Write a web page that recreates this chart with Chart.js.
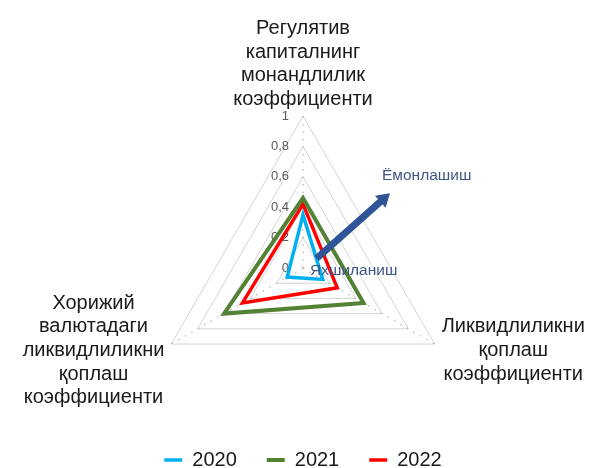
<!DOCTYPE html>
<html lang="uz">

<head>
    <meta charset="UTF-8">
    <meta name="viewport" content="width=device-width, initial-scale=1.0">
    <script src="https://cdn.jsdelivr.net/npm/chart.js"></script>
    <title>Коэффициентлар</title>
    <style>
        html, body { margin: 0; padding: 0; background: #fff; }
    </style>
</head>

<body>
    <canvas id="chart" width="594" height="468"></canvas>
    <script>
        const axisLabels = [
            ['Регулятив', 'капиталнинг', 'монандлилик', 'коэффициенти'],
            ['Ликвидлиликни', 'қоплаш', 'коэффициенти'],
            ['Хорижий', 'валютадаги', 'ликвидлиликни', 'қоплаш', 'коэффициенти']
        ]
        const years = ['2020', '2021', '2022']
        const values2020 = [0.35, 0.15, 0.12]
        const values2021 = [0.46, 0.46, 0.60]
        const values2022 = [0.42, 0.26, 0.46]
        const tickValues = [0, 0.2, 0.4, 0.6, 0.8, 1]
        const colors = ['#00B0F0', '#548235', '#FF0000']

        const family = 'Arial, "Liberation Sans", sans-serif'

        // tick numbers and axis titles, drawn under the data lines
        const axisText = {
            id: 'axisText',
            beforeDatasetsDraw(chart) {
                const r = chart.scales.r
                const ctx = chart.ctx
                ctx.save()
                ctx.font = '13px ' + family
                ctx.fillStyle = '#595959'
                ctx.textAlign = 'right'
                ctx.textBaseline = 'middle'
                tickValues.forEach(v => {
                    const y = r.yCenter - r.getDistanceFromCenterForValue(v)
                    ctx.fillText(String(v).replace('.', ','), r.xCenter - 14, y)
                })

                ctx.font = '20px ' + family
                ctx.fillStyle = '#1a1a1a'
                ctx.textAlign = 'center'
                ctx.textBaseline = 'alphabetic'
                const lh = 23.6
                axisLabels.forEach((lines, i) => {
                    const p = r.getPointPosition(i, r.drawingArea)
                    const w = Math.max(...lines.map(t => ctx.measureText(t).width))
                    let cx, y0
                    if (i === 0) {
                        cx = p.x
                        y0 = p.y - 11 - (lines.length - 1) * lh
                    } else {
                        cx = i === 1 ? p.x + 7 + w / 2 : p.x - 7 - w / 2
                        y0 = p.y + 12 - (lines.length - 1) / 2 * lh
                    }
                    lines.forEach((t, k) => ctx.fillText(t, cx, y0 + k * lh))
                })
                ctx.restore()
            }
        }

        // arrow from the centre outwards with its two captions
        const trendArrow = {
            id: 'trendArrow',
            afterDatasetsDraw(chart) {
                const r = chart.scales.r
                const ctx = chart.ctx
                const at = (deg, v) => {
                    const a = deg * Math.PI / 180
                    const d = r.getDistanceFromCenterForValue(v)
                    return { x: r.xCenter + Math.sin(a) * d, y: r.yCenter - Math.cos(a) * d }
                }
                const s = at(54.7, 0.11)
                const e = at(49.3, 0.755)
                const len = Math.hypot(e.x - s.x, e.y - s.y)
                const ux = (e.x - s.x) / len, uy = (e.y - s.y) / len
                const headLen = 13, headW = 8
                const bx = e.x - ux * headLen, by = e.y - uy * headLen

                ctx.save()
                ctx.strokeStyle = '#2F5597'
                ctx.fillStyle = '#2F5597'
                ctx.lineWidth = 7
                ctx.lineCap = 'butt'
                ctx.beginPath()
                ctx.moveTo(s.x, s.y)
                ctx.lineTo(bx + ux, by + uy)
                ctx.stroke()
                ctx.beginPath()
                ctx.moveTo(e.x, e.y)
                ctx.lineTo(bx - uy * headW, by + ux * headW)
                ctx.lineTo(bx + uy * headW, by - ux * headW)
                ctx.closePath()
                ctx.fill()

                ctx.font = '15.5px ' + family
                ctx.fillStyle = '#3F5587'
                ctx.textAlign = 'left'
                ctx.textBaseline = 'middle'
                ctx.fillText('Ёмонлашиш', r.xCenter + 79, r.yCenter - 92)
                ctx.fillText('Яхшиланиш', r.xCenter + 7, r.yCenter + 3)
                ctx.restore()
            }
        }

        const series = [values2020, values2021, values2022]
        const widths = [3.5, 4, 3.5]

        new Chart(document.getElementById('chart'), {
            type: 'radar',
            data: {
                labels: axisLabels,
                datasets: years.map((y, i) => ({
                    label: y,
                    data: series[i],
                    borderColor: colors[i],
                    backgroundColor: 'transparent',
                    borderWidth: widths[i],
                    borderJoinStyle: 'miter',
                    pointRadius: 0,
                    pointHoverRadius: 0,
                    fill: false
                }))
            },
            options: {
                responsive: false,
                animation: false,
                layout: { padding: { top: 116, left: 12, right: 0, bottom: -12 } },
                plugins: {
                    legend: {
                        position: 'bottom',
                        labels: {
                            usePointStyle: true,
                            pointStyle: 'line',
                            pointStyleWidth: 18,
                            padding: 30,
                            color: '#1a1a1a',
                            font: { size: 20, family }
                        }
                    },
                    tooltip: { enabled: false }
                },
                scales: {
                    r: {
                        min: 0,
                        max: 1,
                        ticks: { stepSize: 0.2, display: false },
                        pointLabels: { display: false },
                        grid: { color: '#d4d4d4', lineWidth: 1 },
                        angleLines: { color: '#b4b4b4', lineWidth: 1.3, borderDash: [1.5, 6] }
                    }
                }
            },
            plugins: [axisText, trendArrow]
        })
    </script>
</body>

</html>
